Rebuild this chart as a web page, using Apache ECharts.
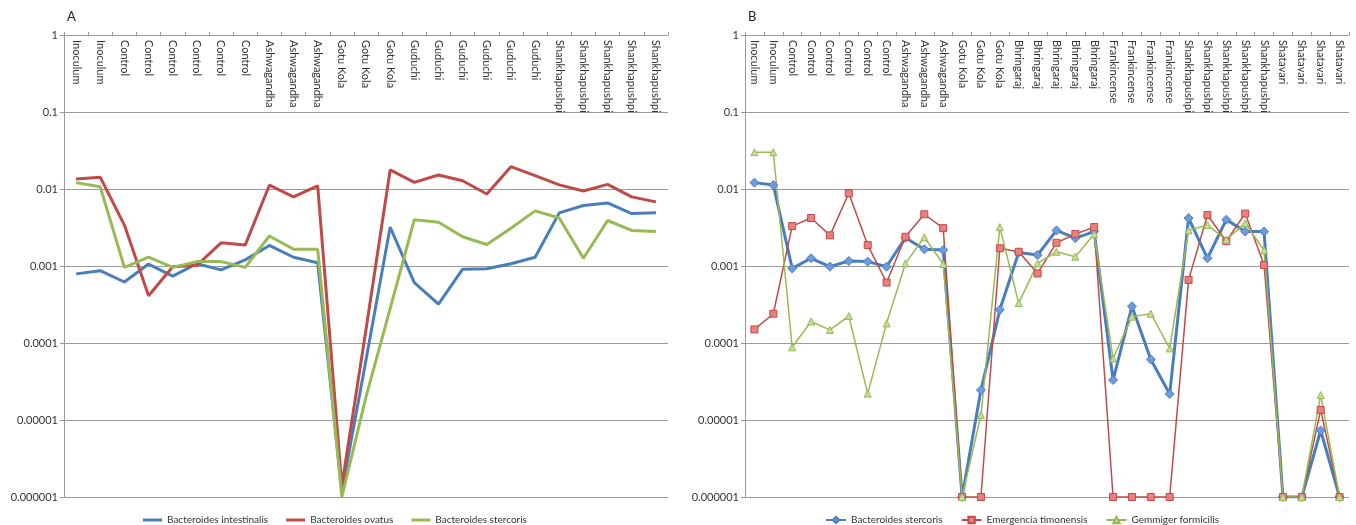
<!DOCTYPE html>
<html>
<head>
<meta charset="utf-8">
<script src="https://cdn.jsdelivr.net/npm/echarts/dist/echarts.min.js"></script>
<style>
  html, body { margin: 0; padding: 0; background: #fff; }
  #chart { width: 1356px; height: 525px; }
</style>
</head>
<body>
<div id="chart"></div>
<script>
// Panel A categories and relative abundances
const categoriesA = [
  'Inoculum', 'Inoculum',
  'Control', 'Control', 'Control', 'Control', 'Control', 'Control',
  'Ashwagandha', 'Ashwagandha', 'Ashwagandha',
  'Gotu Kola', 'Gotu Kola', 'Gotu Kola',
  'Guduchi', 'Guduchi', 'Guduchi', 'Guduchi', 'Guduchi', 'Guduchi',
  'Shankhapushpi', 'Shankhapushpi', 'Shankhapushpi', 'Shankhapushpi', 'Shankhapushpi'
];
const intestinalisA = [0.00079, 0.00087, 0.00062, 0.00106, 0.00074, 0.00107, 0.00089, 0.0012,
  0.00185, 0.0013, 0.0011, 0.0000012, 0.00006, 0.0032, 0.00061, 0.00032, 0.00091, 0.00092,
  0.00107, 0.0013, 0.0049, 0.0061, 0.0066, 0.0048, 0.0049];
const ovatusA = [0.0135, 0.0142, 0.0034, 0.00041, 0.00098, 0.00102, 0.0020, 0.00187,
  0.0112, 0.0079, 0.011, 0.0000014, 0.00015, 0.0177, 0.0122, 0.0152, 0.0128, 0.0086,
  0.0195, 0.0149, 0.0113, 0.0094, 0.0115, 0.0079, 0.0068];
const stercorisA = [0.0121, 0.0107, 0.00096, 0.0013, 0.00096, 0.00114, 0.00114, 0.00096,
  0.00245, 0.00165, 0.00165, 0.000001, 0.00002, 0.00028, 0.0040, 0.0037, 0.0024, 0.0019,
  0.0031, 0.0052, 0.0042, 0.00126, 0.0039, 0.0029, 0.0028];

// Panel B categories and relative abundances
const categoriesB = [
  'Inoculum', 'Inoculum',
  'Control', 'Control', 'Control', 'Control', 'Control', 'Control',
  'Ashwagandha', 'Ashwagandha', 'Ashwagandha',
  'Gotu Kola', 'Gotu Kola', 'Gotu Kola',
  'Bhringaraj', 'Bhringaraj', 'Bhringaraj', 'Bhringaraj', 'Bhringaraj',
  'Frankincense', 'Frankincense', 'Frankincense', 'Frankincense',
  'Shankhapushpi', 'Shankhapushpi', 'Shankhapushpi', 'Shankhapushpi', 'Shankhapushpi',
  'Shatavari', 'Shatavari', 'Shatavari', 'Shatavari'
];
const stercorisB = [0.0121, 0.0113, 0.00093, 0.00126, 0.00098, 0.00116, 0.00114, 0.00098,
  0.00233, 0.00165, 0.00161, 0.000001, 0.0000245, 0.00027,
  0.0015, 0.00139, 0.0029, 0.0023, 0.0028,
  0.000033, 0.0003, 0.000061, 0.0000218,
  0.0042, 0.00126, 0.0040, 0.0028, 0.0028,
  0.000001, 0.000001, 0.0000073, 0.000001];
const timonensisB = [0.00015, 0.00024, 0.0033, 0.0042, 0.0025, 0.0088, 0.00187, 0.00061,
  0.0024, 0.0047, 0.0031, 0.000001, 0.000001, 0.0017,
  0.00153, 0.0008, 0.0020, 0.0026, 0.0032,
  0.000001, 0.000001, 0.000001, 0.000001,
  0.00066, 0.0046, 0.0021, 0.0048, 0.00103,
  0.000001, 0.000001, 0.0000135, 0.000001];
const formicilisB = [0.030, 0.030, 0.000088, 0.00019, 0.000148, 0.000224, 0.000022, 0.00018,
  0.00108, 0.00236, 0.00106, 0.000001, 0.0000116, 0.0032,
  0.00033, 0.00108, 0.00153, 0.00132, 0.0026,
  0.000063, 0.00022, 0.00024, 0.000085,
  0.0029, 0.0034, 0.0022, 0.0036, 0.0016,
  0.000001, 0.000001, 0.0000211, 0.000001];

// Log axis tick labels, from 10^-6 up to 10^0
const yTickLabels = ['0.000001', '0.00001', '0.0001', '0.001', '0.01', '0.1', '1'];

const FONT = 'Lato, "Liberation Sans", sans-serif';
const BLUE = '#4a7ebb', RED = '#be4b48', GREEN = '#98b954';
const GRIDCOL = '#9a9a9a';

function xAxisFor(idx, data) {
  return {
    type: 'category', gridIndex: idx, position: 'top', data: data, boundaryGap: true,
    axisLine: { show: true, lineStyle: { color: GRIDCOL, width: 1 } },
    axisTick: { show: true, inside: false, length: 3, interval: 0, lineStyle: { color: GRIDCOL } },
    axisLabel: {
      inside: true, rotate: 90, interval: 0, margin: 5, fontSize: 11, color: '#333',
      fontFamily: FONT, padding: [5, 0, 0, 0]
    },
    splitLine: { show: false }
  };
}
function yAxisFor(idx) {
  return {
    type: 'log', logBase: 10, gridIndex: idx, min: 0.000001, max: 1, splitNumber: 6,
    axisLine: { show: true, lineStyle: { color: GRIDCOL, width: 1 } },
    axisTick: { show: true, length: 4, lineStyle: { color: GRIDCOL } },
    axisLabel: {
      fontSize: 11, color: '#333', fontFamily: FONT, margin: 6,
      formatter: v => yTickLabels[Math.round(Math.log10(v)) + 6]
    },
    splitLine: { show: true, lineStyle: { color: GRIDCOL, width: 1 } }
  };
}
function plainLine(name, data, color) {
  return {
    name: name, type: 'line', xAxisIndex: 0, yAxisIndex: 0, data: data,
    symbol: 'none', lineStyle: { color: color, width: 3 }, itemStyle: { color: color },
    animation: false
  };
}
function markedLine(name, data, color, fill, symbol, size, width) {
  return {
    name: name, type: 'line', xAxisIndex: 1, yAxisIndex: 1, data: data,
    symbol: symbol, symbolSize: size, showSymbol: true,
    lineStyle: { color: color, width: width },
    itemStyle: { color: fill, borderColor: color, borderWidth: 1 },
    animation: false
  };
}

const chart = echarts.init(document.getElementById('chart'), null, { renderer: 'canvas' });
chart.setOption({
  backgroundColor: '#fff',
  animation: false,
  title: [
    { text: 'A', left: 62, top: 5, textStyle: { fontSize: 13, fontWeight: 'normal', color: '#222', fontFamily: FONT } },
    { text: 'B', left: 743, top: 5, textStyle: { fontSize: 13, fontWeight: 'normal', color: '#222', fontFamily: FONT } }
  ],
  grid: [
    { left: 64, top: 35, width: 604, height: 462 },
    { left: 745, top: 35, width: 604, height: 462 }
  ],
  xAxis: [xAxisFor(0, categoriesA), xAxisFor(1, categoriesB)],
  yAxis: [yAxisFor(0), yAxisFor(1)],
  legend: [
    {
      data: ['Bacteroides intestinalis', 'Bacteroides ovatus', 'Bacteroides stercoris'],
      left: 138, top: 510, icon: 'rect', itemWidth: 19, itemHeight: 3, itemGap: 18,
      textStyle: { fontSize: 10, color: '#333', fontFamily: FONT }
    },
    {
      data: ['Bacteroides stercoris ', 'Emergencia timonensis', 'Gemmiger formicilis'],
      left: 820, top: 510, itemWidth: 20, itemHeight: 8, itemGap: 18,
      textStyle: { fontSize: 10, color: '#333', fontFamily: FONT },
      formatter: n => n.trim()
    }
  ],
  series: [
    plainLine('Bacteroides intestinalis', intestinalisA, BLUE),
    plainLine('Bacteroides ovatus', ovatusA, RED),
    plainLine('Bacteroides stercoris', stercorisA, GREEN),
    markedLine('Bacteroides stercoris ', stercorisB, BLUE, '#6d9be0', 'diamond', 9, 3),
    markedLine('Emergencia timonensis', timonensisB, RED, '#e9807d', 'rect', 7, 1.5),
    markedLine('Gemmiger formicilis', formicilisB, GREEN, '#c6dc9a', 'triangle', 7, 1.5)
  ]
});
</script>
</body>
</html>
